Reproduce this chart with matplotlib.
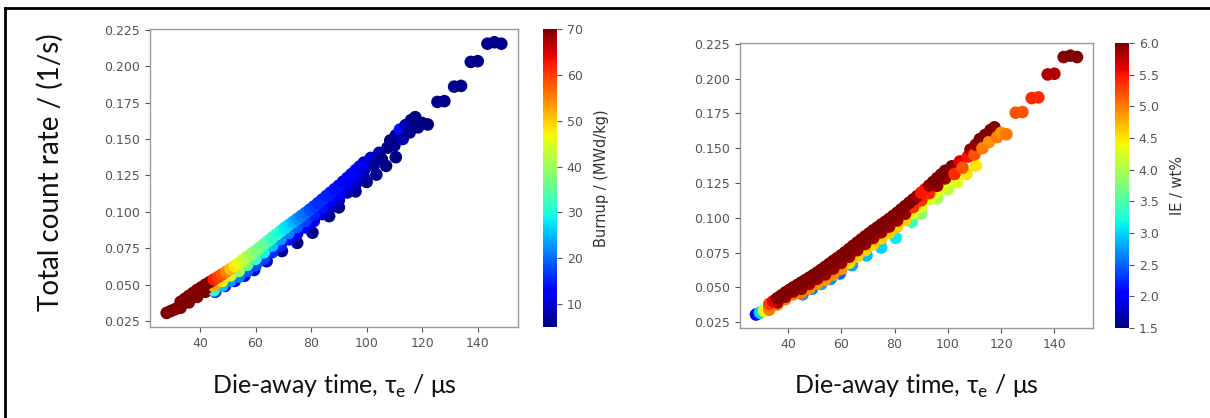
import numpy as np
import matplotlib
matplotlib.use("Agg")
import matplotlib.pyplot as plt
from matplotlib.lines import Line2D

# die-away time (us), total count rate (1/s), burnup (MWd/kg), initial enrichment (wt%)
# points are listed in drawing order: lower dots first, then the band rows, then the upper clusters

# dots sticking out below the band
dots_tau  = [45.5, 49.0, 52.5, 56.0, 59.5, 64.0, 69.5, 75.0, 80.5, 86.5, 90.0, 96.0, 100.0, 103.5, 107.0, 110.5]
dots_rate = [0.0450, 0.0490, 0.0525, 0.0560, 0.0600, 0.0660, 0.0730, 0.0786, 0.0856, 0.0970, 0.1030, 0.1140,
             0.1205, 0.1255, 0.1315, 0.1375]
dots_bu   = [15, 14, 13, 12, 11, 9, 6, 5, 5, 5, 5, 6, 5, 6, 5, 5]
dots_ie   = [2.7, 2.6, 2.8, 2.7, 2.5, 2.8, 2.9, 3.0, 3.1, 3.4, 3.8, 4.0, 4.1, 4.3, 4.5, 4.5]

# lower row of the band
lower_tau  = [28.0, 29.5, 31.0, 33, 36, 39, 42, 45, 48, 51, 54, 57, 60, 63, 66, 69, 72, 75, 78, 81, 84, 87, 90, 93, 96, 99]
lower_rate = [0.0305, 0.0318, 0.0330, 0.0340, 0.0377, 0.0415, 0.0450, 0.0460, 0.0492, 0.0527, 0.0553, 0.0592,
              0.0631, 0.0676, 0.0722, 0.0767, 0.0810, 0.0851, 0.0892, 0.0936, 0.0984, 0.1032, 0.1080, 0.1132,
              0.1185, 0.1238]
lower_bu   = [70, 70, 70, 70, 70, 70, 70, 30, 26, 23, 21, 19, 18, 17, 16, 15, 14, 13, 12, 11, 10, 9, 9, 8, 8, 7]
lower_ie   = [2.0, 3.0, 4.3, 5.0, 5.0, 5.0, 5.0, 5.0, 4.9, 4.9, 4.9, 4.9, 4.9, 4.6, 4.6, 4.6, 4.6, 4.6, 4.6,
              4.6, 4.6, 4.3, 4.3, 4.3, 4.3, 4.3]

# middle row of the band
mid_tau  = [33, 36, 39, 42, 45, 48, 51, 54, 57, 60, 63, 66, 69, 72, 75, 78, 81, 84, 87, 90, 93, 96, 99]
mid_rate = [0.0356, 0.0392, 0.0433, 0.0470, 0.0490, 0.0525, 0.0562, 0.0593, 0.0635, 0.0676, 0.0721, 0.0767,
            0.0812, 0.0855, 0.0896, 0.0937, 0.0981, 0.1029, 0.1077, 0.1125, 0.1177, 0.1230, 0.1283]
mid_bu   = [70, 70, 70, 70, 52, 48, 44, 40, 36, 32, 29, 26, 23, 21, 19, 17, 15, 14, 13, 12, 11, 10, 9]
mid_ie   = [5.0, 5.9, 5.9, 5.9, 5.9, 5.9, 5.9, 5.9, 5.9, 5.9, 5.9, 5.9, 5.9, 5.9, 5.9, 5.9, 5.9, 5.9, 5.4,
            5.4, 5.4, 5.9, 5.9]

# upper row of the band
upper_tau  = [33, 34.5, 36, 37.5, 39, 40.5, 42, 43.5, 45, 46.5, 48, 49.5, 51, 52.5, 54, 55.5, 57, 58.5, 60, 61.5,
              63, 64.5, 66, 67.5, 69, 70.5, 72, 73.5, 75, 76.5, 78, 79.5, 81, 82.5, 84, 85.5, 87, 88.5, 90, 91.5,
              93, 94.5, 96, 97.5, 99]
upper_rate = [0.0381, 0.0401, 0.0422, 0.0442, 0.0463, 0.0481, 0.0500, 0.0517, 0.0535, 0.0552, 0.0570, 0.0588,
              0.0607, 0.0627, 0.0648, 0.0669, 0.0690, 0.0710, 0.0731, 0.0753, 0.0776, 0.0799, 0.0822, 0.0844,
              0.0867, 0.0888, 0.0910, 0.0930, 0.0951, 0.0971, 0.0992, 0.1014, 0.1036, 0.1060, 0.1084, 0.1108,
              0.1132, 0.1156, 0.1180, 0.1206, 0.1232, 0.1258, 0.1285, 0.1311, 0.1338]
upper_bu   = [70, 70, 70, 70, 70, 70, 70, 70, 62, 60, 58, 55, 51, 48, 46, 44, 42, 40, 38, 37, 36, 34, 32, 31, 30,
              28, 27, 25, 23, 21, 20, 18, 17, 16, 16, 15, 15, 14, 14, 13, 13, 12, 12, 11, 11]
upper_ie   = [5.3, 5.6, 6.0, 6.0, 6.0, 6.0, 6.0, 6.0, 6.0, 6.0, 6.0, 6.0, 6.0, 6.0, 6.0, 6.0, 6.0, 6.0, 6.0, 6.0,
              6.0, 6.0, 6.0, 6.0, 6.0, 6.0, 6.0, 6.0, 6.0, 6.0, 6.0, 6.0, 6.0, 6.0, 6.0, 6.0, 6.0, 5.9, 5.5, 5.5,
              5.9, 6.0, 6.0, 6.0, 6.0]

# clusters at long die-away times
top_tau  = [101.5, 102.5, 104.5, 105.5, 107.5, 108.5, 110.0, 110.5, 112.0, 113.0, 114.0, 115.5, 116.0, 117.5,
            118.5, 120.0, 122.0, 125.5, 128.0, 131.5, 134.0, 137.5, 140.0, 143.5, 146.0, 148.5]
top_rate = [0.1370, 0.1315, 0.1405, 0.1360, 0.1440, 0.1490, 0.1455, 0.1525, 0.1565, 0.1500, 0.1595, 0.1545,
            0.1630, 0.1650, 0.1580, 0.1610, 0.1600, 0.1755, 0.1760, 0.1860, 0.1865, 0.2030, 0.2035, 0.2155,
            0.2165, 0.2155]
top_bu   = [10, 7, 8, 6, 6, 6, 6, 6, 14, 8, 9, 6, 6, 5, 5, 5, 5, 6, 6, 6, 6, 6, 6, 6, 6, 6]
top_ie   = [6.0, 5.4, 5.6, 5.2, 5.5, 5.9, 5.2, 5.9, 6.0, 5.0, 6.0, 4.9, 6.0, 6.0, 5.0, 4.9, 5.0, 5.2, 5.2, 5.4,
            5.4, 5.8, 5.8, 6.0, 6.0, 6.0]

bu_ticks = [10, 20, 30, 40, 50, 60, 70]
ie_ticks = [1.5, 2.0, 2.5, 3.0, 3.5, 4.0, 4.5, 5.0, 5.5, 6.0]

tau = np.concatenate([dots_tau, lower_tau, mid_tau, upper_tau, top_tau])
rate = np.concatenate([dots_rate, lower_rate, mid_rate, upper_rate, top_rate])
burnup = np.concatenate([dots_bu, lower_bu, mid_bu, upper_bu, top_bu])
enrich = np.concatenate([dots_ie, lower_ie, mid_ie, upper_ie, top_ie])

big_font = ["Lato", "DejaVu Sans"]
tick_grey = "#555555"

fig = plt.figure(figsize=(12.1, 4.18), dpi=100)

W, H = 1210.0, 418.0
def box(x0, y0, x1, y1):
    # pixel box (top-left origin) -> figure fraction rect
    return [x0 / W, 1 - y1 / H, (x1 - x0) / W, (y1 - y0) / H]

ax1 = fig.add_axes(box(150, 29, 518, 327))
cax1 = fig.add_axes(box(543, 29, 557, 327))
ax2 = fig.add_axes(box(740, 43, 1093, 328))
cax2 = fig.add_axes(box(1115, 43, 1129, 328))

sc1 = ax1.scatter(tau, rate, c=burnup, cmap="jet", vmin=5, vmax=70, s=82, linewidths=0)
sc2 = ax2.scatter(tau, rate, c=enrich, cmap="jet", vmin=1.5, vmax=6.0, s=82, linewidths=0)

for ax in [ax1, ax2]:
    ax.set_xlim(22, 154.5)
    ax.set_ylim(0.0208, 0.2256)
    ax.set_xticks([40, 60, 80, 100, 120, 140])
    ax.set_yticks([0.025, 0.05, 0.075, 0.1, 0.125, 0.15, 0.175, 0.2, 0.225])
    ax.yaxis.set_major_formatter(matplotlib.ticker.FormatStrFormatter("%.3f"))
    ax.tick_params(colors=tick_grey, labelsize=9, length=3.5, width=0.8, labelcolor=tick_grey)
    for sp in ax.spines.values():
        sp.set_color("#9a9a9a")
        sp.set_linewidth(1.0)

cb1 = fig.colorbar(sc1, cax=cax1, ticks=bu_ticks)
cb2 = fig.colorbar(sc2, cax=cax2, ticks=ie_ticks)
cb2.ax.yaxis.set_major_formatter(matplotlib.ticker.FormatStrFormatter("%.1f"))
for cb, label in [(cb1, "Burnup / (MWd/kg)"), (cb2, "IE / wt%")]:
    cb.outline.set_visible(False)
    cb.ax.tick_params(colors=tick_grey, labelsize=9, length=3.5, width=0.8, labelcolor=tick_grey)
    cb.set_label(label, fontsize=10.5, color="#333333", labelpad=8)

# slide labels
fig.text(50 / W, 1 - 172 / H, "Total count rate / (1/s)", rotation=90, ha="center", va="center",
         fontsize=20, family=big_font, color="#111111")
xlab = "Die-away time, τ$_\\mathregular{e}$ / μs"
fig.text(334 / W, 1 - 394 / H, xlab, ha="center", va="baseline", fontsize=18, family=big_font, color="#111111")
fig.text(916 / W, 1 - 394 / H, xlab, ha="center", va="baseline", fontsize=18, family=big_font, color="#111111")

# slide frame (left and top edges)
fig.add_artist(Line2D([5 / W, 5 / W], [0, 1 - 8 / H], transform=fig.transFigure, color="black", lw=2))
fig.add_artist(Line2D([5 / W, 1], [1 - 8 / H, 1 - 8 / H], transform=fig.transFigure, color="black", lw=2))

fig.savefig("out.png", dpi=100)
